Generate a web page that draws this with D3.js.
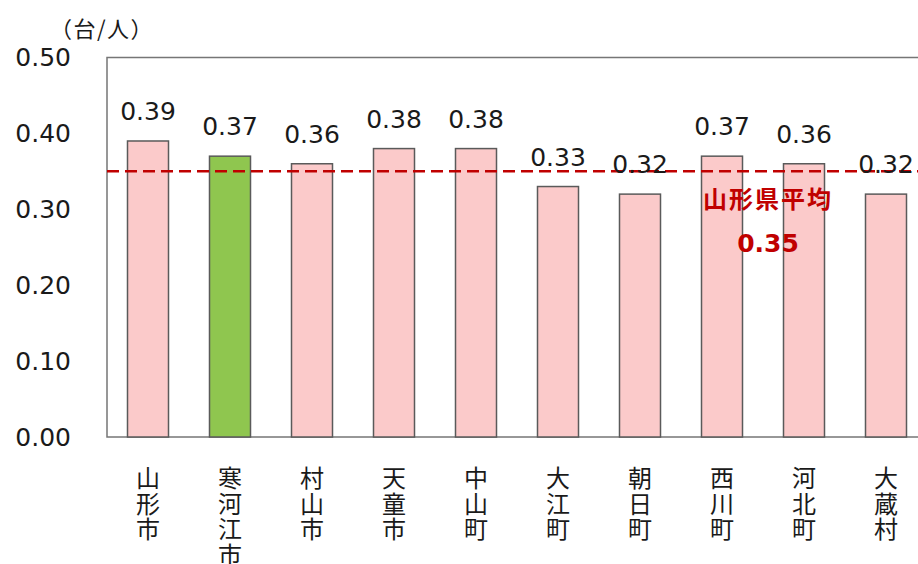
<!DOCTYPE html>
<html>
<head>
<meta charset="utf-8">
<script src="https://cdn.jsdelivr.net/npm/d3@7"></script>
<style>
  html, body { margin: 0; padding: 0; background: #fff; }
  svg { display: block; }
</style>
</head>
<body>
<svg id="chart" width="918" height="564"></svg>
<script>
// Car ownership per person by municipality
const categories = ["山形市", "寒河江市", "村山市", "天童市", "中山町", "大江町", "朝日町", "西川町", "河北町", "大蔵村"];
const values = [0.39, 0.37, 0.36, 0.38, 0.38, 0.33, 0.32, 0.37, 0.36, 0.32];
const highlight = "寒河江市";
const prefAverage = 0.35;
const prefLabel = "山形県平均";
const unitLabel = "（台/人）";
const yTicks = [0, 0.1, 0.2, 0.3, 0.4, 0.5];

const svg = d3.select("#chart");
const plotLeft = 107, plotRight = 927, plotTop = 57.5, plotBottom = 437;

const x = d3.scaleBand()
  .domain(categories)
  .range([plotLeft, plotRight])
  .paddingInner(0.5)
  .paddingOuter(0.25);

const y = d3.scaleLinear()
  .domain([0, 0.5])
  .range([plotBottom, plotTop]);

const numFont = "'DejaVu Sans', Verdana, sans-serif";
const cjkFont = "'Noto Sans CJK JP', 'Noto Sans', sans-serif";

// Plot frame
svg.append("rect")
  .attr("x", plotLeft).attr("y", plotTop)
  .attr("width", plotRight - plotLeft).attr("height", plotBottom - plotTop)
  .attr("fill", "none")
  .attr("stroke", "#767676")
  .attr("stroke-width", 1.5);

// Y axis labels
const yAxis = svg.append("g")
  .attr("transform", `translate(${plotLeft},0)`)
  .call(d3.axisLeft(y).tickValues(yTicks).tickFormat(d3.format(".2f")).tickSize(0).tickPadding(36));
yAxis.select(".domain").remove();
yAxis.selectAll("text")
  .attr("font-family", numFont)
  .attr("font-size", 25)
  .attr("fill", "#1a1a1a");

// Unit label
svg.append("text")
  .attr("x", 50).attr("y", 37)
  .attr("font-family", cjkFont)
  .attr("font-size", 22)
  .attr("letter-spacing", 1.5)
  .attr("fill", "#1a1a1a")
  .text(unitLabel);

// Bars
svg.append("g").selectAll("rect")
  .data(categories)
  .join("rect")
  .attr("x", d => x(d))
  .attr("y", (d, i) => y(values[i]))
  .attr("width", x.bandwidth())
  .attr("height", (d, i) => y(0) - y(values[i]))
  .attr("fill", d => d === highlight ? "#8fc64f" : "#fbcaca")
  .attr("stroke", "#5a5a5a")
  .attr("stroke-width", 1.5);

// Prefecture average line
svg.append("line")
  .attr("x1", plotLeft).attr("x2", plotRight)
  .attr("y1", y(prefAverage)).attr("y2", y(prefAverage))
  .attr("stroke", "#c00000")
  .attr("stroke-width", 2.5)
  .attr("stroke-dasharray", "12,6");

// Value labels
svg.append("g").selectAll("text")
  .data(categories)
  .join("text")
  .attr("x", d => x(d) + x.bandwidth() / 2)
  .attr("y", (d, i) => y(values[i]) - 21)
  .attr("text-anchor", "middle")
  .attr("font-family", numFont)
  .attr("font-size", 25)
  .attr("fill", "#1a1a1a")
  .text((d, i) => d3.format(".2f")(values[i]));

// Average annotation, between 西川町 and 河北町
const annX = (x("西川町") + x("河北町") + x.bandwidth()) / 2 + 5;
svg.append("text")
  .attr("x", annX).attr("y", 208)
  .attr("text-anchor", "middle")
  .attr("font-family", cjkFont)
  .attr("font-weight", "bold")
  .attr("font-size", 24)
  .attr("letter-spacing", 2)
  .attr("fill", "#c00000")
  .text(prefLabel);
svg.append("text")
  .attr("x", annX).attr("y", 252)
  .attr("text-anchor", "middle")
  .attr("font-family", numFont)
  .attr("font-weight", "bold")
  .attr("font-size", 25)
  .attr("fill", "#c00000")
  .text(d3.format(".2f")(prefAverage));

// Vertical category labels
svg.append("g").selectAll("text")
  .data(categories)
  .join("text")
  .attr("x", d => x(d) + x.bandwidth() / 2)
  .attr("y", 466)
  .attr("writing-mode", "vertical-rl")
  .attr("font-family", cjkFont)
  .attr("font-size", 24)
  .attr("letter-spacing", 1.5)
  .attr("fill", "#1a1a1a")
  .text(d => d);
</script>
</body>
</html>
